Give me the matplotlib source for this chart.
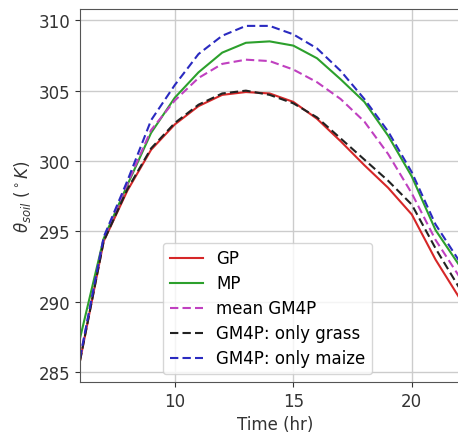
import matplotlib
matplotlib.use("Agg")
import matplotlib.pyplot as plt

time_hr = [6, 7, 8, 9, 10, 11, 12, 13, 14, 15, 16, 17, 18, 19, 20, 21, 22]
gp = [285.8, 294.3, 297.9, 300.8, 302.6, 303.9, 304.7, 304.9, 304.8, 304.2,
      303.0, 301.4, 299.7, 298.1, 296.2, 293.0, 290.3]
mp = [287.4, 294.5, 298.3, 302.0, 304.5, 306.3, 307.7, 308.4, 308.5, 308.2,
      307.3, 305.8, 304.2, 301.8, 298.9, 295.1, 292.6]
mean_gm4p = [286.0, 294.5, 298.4, 302.2, 304.3, 305.9, 306.9, 307.2, 307.1, 306.5,
             305.6, 304.4, 302.8, 300.5, 297.7, 294.4, 291.8]
gm4p_grass = [285.8, 294.3, 298.0, 300.9, 302.7, 304.0, 304.8, 305.0, 304.7, 304.1,
              303.1, 301.6, 300.1, 298.6, 296.9, 293.8, 291.0]
gm4p_maize = [286.0, 294.6, 298.6, 302.9, 305.4, 307.6, 308.9, 309.6, 309.6, 309.0,
              308.0, 306.4, 304.4, 302.1, 299.2, 295.5, 292.9]

labels = ["GP", "MP", "mean GM4P", "GM4P: only grass", "GM4P: only maize"]
xticks = [10, 15, 20]
yticks = [285, 290, 295, 300, 305, 310]

fig = plt.figure(figsize=(4.58, 4.35), dpi=100)
W, H = 458, 435
x0, x1 = 6, 22.5
pxu = 23.7
ax = fig.add_axes([80 / W, 52 / H, (x1 - x0) * pxu / W, 373 / H])

dash = (0, (4, 2))
ax.plot(time_hr, gp, color="#d62728", lw=1.5, label=labels[0])
ax.plot(time_hr, mp, color="#2ca02c", lw=1.5, label=labels[1])
ax.plot(time_hr, mean_gm4p, color="#c040c0", lw=1.5, ls=dash, label=labels[2])
ax.plot(time_hr, gm4p_grass, color="#222222", lw=1.5, ls=dash, label=labels[3])
ax.plot(time_hr, gm4p_maize, color="#2a2ac0", lw=1.5, ls=dash, label=labels[4])

ax.set_xlim(x0, x1)
ax.set_ylim(284.3, 310.8)
ax.set_xticks(xticks)
ax.set_yticks(yticks)
ax.tick_params(labelsize=12, colors="#333333")
ax.grid(True, color="#cccccc", lw=1)
for s in ax.spines.values():
    s.set_color("#555555")
ax.set_xlabel("Time (hr)", fontsize=12, color="#333333")
ax.set_ylabel(r"$\theta_{soil}$ ($^\circ K$)", fontsize=12, color="#333333")

ax.legend(fontsize=12, loc="lower left", labelspacing=0.42,
          bbox_to_anchor=(163 / W, (H - 375) / H),
          bbox_transform=fig.transFigure, borderaxespad=0)

fig.savefig("out.png", dpi=100)
